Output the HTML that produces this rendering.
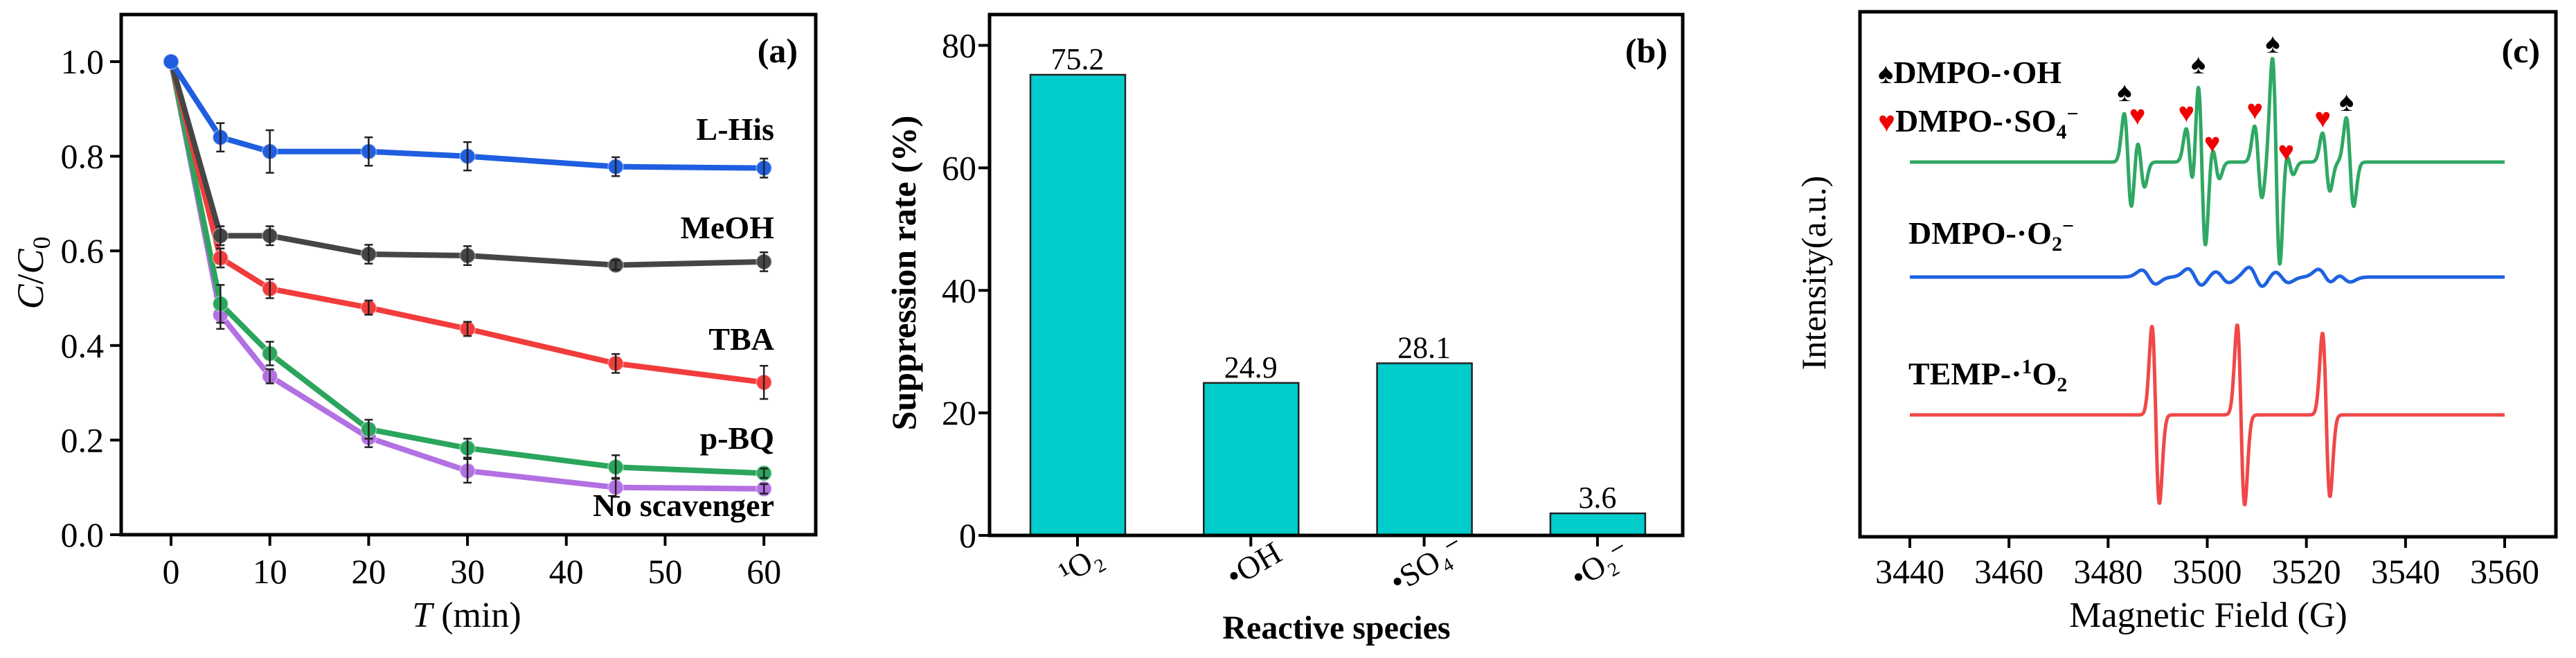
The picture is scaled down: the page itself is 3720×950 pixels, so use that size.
<!DOCTYPE html>
<html><head><meta charset="utf-8"><style>
html,body{margin:0;padding:0;background:#fff;}
svg{display:block;font-family:"Liberation Serif",serif;}
</style></head><body>
<svg id="fig" width="3720" height="950" viewBox="0 0 3720 950" xmlns="http://www.w3.org/2000/svg">
<g id="pa"></g>
<g id="pb"></g>
<g id="pc"></g>
</svg>
<script>
// ---------- Panel (a) data ----------
const timesA = [0, 5, 10, 20, 30, 45, 60];
const xTicksA = [0, 10, 20, 30, 40, 50, 60];
const yTicksA = [0.0, 0.2, 0.4, 0.6, 0.8, 1.0];
const seriesNamesA = ["L-His", "MeOH", "TBA", "p-BQ", "No scavenger"];
const lhisVals = [1.0, 0.84, 0.81, 0.81, 0.80, 0.778, 0.775];
const lhisErr = [0, 0.03, 0.045, 0.03, 0.03, 0.02, 0.02];
const meohVals = [1.0, 0.632, 0.632, 0.593, 0.59, 0.57, 0.577];
const meohErr = [0, 0.02, 0.02, 0.02, 0.02, 0.01, 0.02];
const tbaVals = [1.0, 0.585, 0.52, 0.48, 0.435, 0.362, 0.322];
const tbaErr = [0, 0.02, 0.02, 0.015, 0.015, 0.02, 0.035];
const pbqVals = [1.0, 0.488, 0.383, 0.223, 0.183, 0.143, 0.13];
const pbqErr = [0, 0.04, 0.025, 0.02, 0.02, 0.025, 0.01];
const noneVals = [1.0, 0.465, 0.335, 0.205, 0.135, 0.1, 0.097];
const noneErr = [0, 0.03, 0.015, 0.02, 0.025, 0.02, 0.01];

// ---------- Panel (b) data ----------
const speciesB = ["¹O₂", "•OH", "•SO₄⁻", "•O₂⁻"];
const suppressionB = [75.2, 24.9, 28.1, 3.6];
const yTicksB = [0, 20, 40, 60, 80];

// ---------- Panel (c) data ----------
const xTicksC = [3440, 3460, 3480, 3500, 3520, 3540, 3560];
const greenCenters = [3484.0, 3486.6, 3496.5, 3498.9, 3501.7, 3510.3, 3513.9, 3516.6, 3524.0, 3528.8];
const greenAmps = [70, 36, 48, 122, 24, 52, 150, 18, 42, 64];
const blueCenters = [3488.2, 3497.5, 3503.0, 3509.8, 3515.0, 3523.8, 3527.5];
const blueAmps = [10, 12, 8, 14, 8, 11, 7];
const redCenters = [3489.6, 3506.8, 3524.0];
const redAmps = [128, 130, 118];
const spadeFields = [3483.3, 3498.2, 3513.2, 3528.1];
const heartFields = [3485.9, 3495.8, 3501.0, 3509.6, 3515.9, 3523.3];

const NS = "http://www.w3.org/2000/svg";
function mk(parent, tag, attrs, text) {
  const e = document.createElementNS(NS, tag);
  for (const k in attrs) e.setAttribute(k, attrs[k]);
  if (text !== undefined) e.textContent = text;
  parent.appendChild(e);
  return e;
}

// ===== Panel A =====
(function(){
  const g = document.getElementById('pa');
  const L=175,R=1178,T=21,B=772;
  const xA = t => 247 + t*14.27;
  const yA = v => 772 - v*683;
  let e;
  e = mk(g,'rect',{x:L,y:T,width:R-L,height:B-T,fill:'none',stroke:'#000','stroke-width':5});
   
  xTicksA.forEach(t=>{
    e = mk(g,'line',{x1:xA(t),x2:xA(t),y1:B,y2:B+16,stroke:'#000','stroke-width':4});
     
    e = mk(g,'text',{x:xA(t),y:842,'font-size':50,'text-anchor':'middle'},String(t));
     
  });
  yTicksA.forEach(v=>{
    e = mk(g,'line',{x1:L-16,x2:L,y1:yA(v),y2:yA(v),stroke:'#000','stroke-width':4});
     
    e = mk(g,'text',{x:150,y:yA(v)+17,'font-size':50,'text-anchor':'end'},v.toFixed(1));
     
  });
  e = mk(g,'text',{x:0,y:0,'font-size':54,'text-anchor':'middle',transform:'translate(62,394) rotate(-90)'});
   
  e.innerHTML = '<tspan font-style="italic">C</tspan>/<tspan font-style="italic">C</tspan><tspan font-size="36" dy="10">0</tspan>';
  e = mk(g,'text',{x:674,y:905,'font-size':52,'text-anchor':'middle'});
   
  e.innerHTML = '<tspan font-style="italic">T</tspan> (min)';
  e = mk(g,'text',{x:1152,y:90,'font-size':50,'font-weight':'bold','text-anchor':'end'},'(a)');
   

  const sets = [
    {v:lhisVals,e:lhisErr,c:'#1f5ee0',ly:202},
    {v:meohVals,e:meohErr,c:'#454545',ly:344},
    {v:tbaVals,e:tbaErr,c:'#f23c3c',ly:505},
    {v:pbqVals,e:pbqErr,c:'#2ba55c',ly:648},
    {v:noneVals,e:noneErr,c:'#b270e2',ly:745}
  ];
  // draw in reverse so blue on top
  sets.slice().reverse().forEach((s,ri)=>{
    const i = sets.length-1-ri;
    const sg = mk(g,'g',{});
    
    
    const pts = timesA.map((t,k)=>xA(t)+','+yA(s.v[k])).join(' ');
    e = mk(sg,'polyline',{points:pts,fill:'none',stroke:s.c,'stroke-width':8,'stroke-linejoin':'round'});
     
    timesA.forEach((t,k)=>{
      const x=xA(t), y=yA(s.v[k]);
      e = mk(sg,'circle',{cx:x,cy:y,r:11,fill:s.c,stroke:'#fff','stroke-opacity':0.35,'stroke-width':2});
       
      if (s.e[k]>0){
        const y1=yA(s.v[k]+s.e[k]), y2=yA(s.v[k]-s.e[k]);
        e = mk(sg,'path',{d:`M${x},${y1}V${y2}M${x-6},${y1}H${x+6}M${x-6},${y2}H${x+6}`,stroke:'#222','stroke-width':2.5,fill:'none'});
         
      }
    });
    e = mk(sg,'text',{x:1118,y:s.ly,'font-size':46,'font-weight':'bold','text-anchor':'end'},seriesNamesA[i]);
     
  });
})();

// ===== Panel B =====
(function(){
  const g = document.getElementById('pb');
  const L=1429,R=2430,T=21,B=773;
  const yB = v => 773 - v*(773-65.5)/80;
  const xB = i => 1556 + i*250.3;
  let e;
  suppressionB.forEach((v,i)=>{
    e = mk(g,'rect',{x:xB(i)-68,y:yB(v),width:137,height:B-yB(v),fill:'#00cccc',stroke:'#222','stroke-width':2.5});
     
    e = mk(g,'text',{x:xB(i),y:yB(v)-8,'font-size':44,'text-anchor':'middle'},v.toFixed(1));
     
    e = mk(g,'line',{x1:xB(i),x2:xB(i),y1:B,y2:B+16,stroke:'#000','stroke-width':4});
     
    e = mk(g,'text',{x:0,y:0,'font-size':46,'text-anchor':'middle',transform:`translate(${xB(i)+12},${828}) rotate(-30)`},speciesB[i]);
     
  });
  e = mk(g,'rect',{x:L,y:T,width:R-L,height:B-T,fill:'none',stroke:'#000','stroke-width':5});
   
  yTicksB.forEach(v=>{
    e = mk(g,'line',{x1:L-16,x2:L,y1:yB(v),y2:yB(v),stroke:'#000','stroke-width':4});
     
    e = mk(g,'text',{x:1410,y:yB(v)+17,'font-size':50,'text-anchor':'end'},String(v));
     
  });
  e = mk(g,'text',{x:0,y:0,'font-size':50,'font-weight':'bold','text-anchor':'middle',transform:'translate(1322,394) rotate(-90)'},'Suppression rate (%)');
   
  e = mk(g,'text',{x:1930,y:922,'font-size':48,'font-weight':'bold','text-anchor':'middle'},'Reactive species');
   
  e = mk(g,'text',{x:2408,y:90,'font-size':50,'font-weight':'bold','text-anchor':'end'},'(b)');
   
})();

// ===== Panel C =====
(function(){
  const g = document.getElementById('pc');
  const L=2686,R=3691,T=17,B=775;
  const xC = f => 2758 + (f-3440)*(3617-2758)/120;
  const W = 0.75;
  function spec(centers, amps, base, w){
    const pts=[];
    for(let f=3440; f<=3560.001; f+=0.1){
      let s=0;
      centers.forEach((c,i)=>{ const d=(f-c)/w; s += amps[i]*(-d)*Math.exp(0.5-d*d/2); });
      pts.push(xC(f).toFixed(1)+','+(base - s).toFixed(1));
    }
    return pts.join(' ');
  }
  let e;
  e = mk(g,'rect',{x:L,y:T,width:R-L,height:B-T,fill:'none',stroke:'#000','stroke-width':5});
   
  xTicksC.forEach(f=>{
    e = mk(g,'line',{x1:xC(f),x2:xC(f),y1:B,y2:B+16,stroke:'#000','stroke-width':4});
     
    e = mk(g,'text',{x:xC(f),y:842,'font-size':50,'text-anchor':'middle'},String(f));
     
  });
  e = mk(g,'text',{x:0,y:0,'font-size':50,'text-anchor':'middle',transform:'translate(2636,394) rotate(-90)'},'Intensity(a.u.)');
   
  e = mk(g,'text',{x:3189,y:905,'font-size':52,'text-anchor':'middle'},'Magnetic Field (G)');
   
  e = mk(g,'text',{x:3668,y:90,'font-size':50,'font-weight':'bold','text-anchor':'end'},'(c)');
   

  e = mk(g,'polyline',{points:spec(greenCenters,greenAmps,234,W),fill:'none',stroke:'#2fa864','stroke-width':5,'stroke-linejoin':'round'});
   
  e = mk(g,'polyline',{points:spec(blueCenters,blueAmps,400,1.4),fill:'none',stroke:'#1f62e0','stroke-width':5,'stroke-linejoin':'round'});
   
  e = mk(g,'polyline',{points:spec(redCenters,redAmps,599,W),fill:'none',stroke:'#f04848','stroke-width':5,'stroke-linejoin':'round'});
   

  const spadeY=[146,106,76,160], heartY=[180,176,220,172,232,184];
  spadeFields.forEach((f,i)=>{
    e = mk(g,'text',{x:xC(f),y:spadeY[i],'font-size':40,'text-anchor':'middle',fill:'#000'},'♠');
     
  });
  heartFields.forEach((f,i)=>{
    e = mk(g,'text',{x:xC(f),y:heartY[i],'font-size':40,'text-anchor':'middle',fill:'#f00000'},'♥');
     
  });
  e = mk(g,'text',{x:2712,y:120,'font-size':46,'font-weight':'bold'});
   
  e.innerHTML='<tspan font-size="42">♠</tspan>DMPO-·OH';
  e = mk(g,'text',{x:2712,y:190,'font-size':46,'font-weight':'bold'});
   
  e.innerHTML='<tspan fill="#f00000" font-size="42">♥</tspan>DMPO-·SO<tspan font-size="30" dy="10">4</tspan><tspan font-size="30" dy="-26">−</tspan>';
  e = mk(g,'text',{x:2756,y:352,'font-size':46,'font-weight':'bold'});
   
  e.innerHTML='DMPO-·O<tspan font-size="30" dy="10">2</tspan><tspan font-size="30" dy="-26">−</tspan>';
  e = mk(g,'text',{x:2756,y:555,'font-size':46,'font-weight':'bold'});
   
  e.innerHTML='TEMP-·<tspan font-size="30" dy="-16">1</tspan><tspan dy="16">O</tspan><tspan font-size="30" dy="10">2</tspan>';
})();
</script>
</body></html>
